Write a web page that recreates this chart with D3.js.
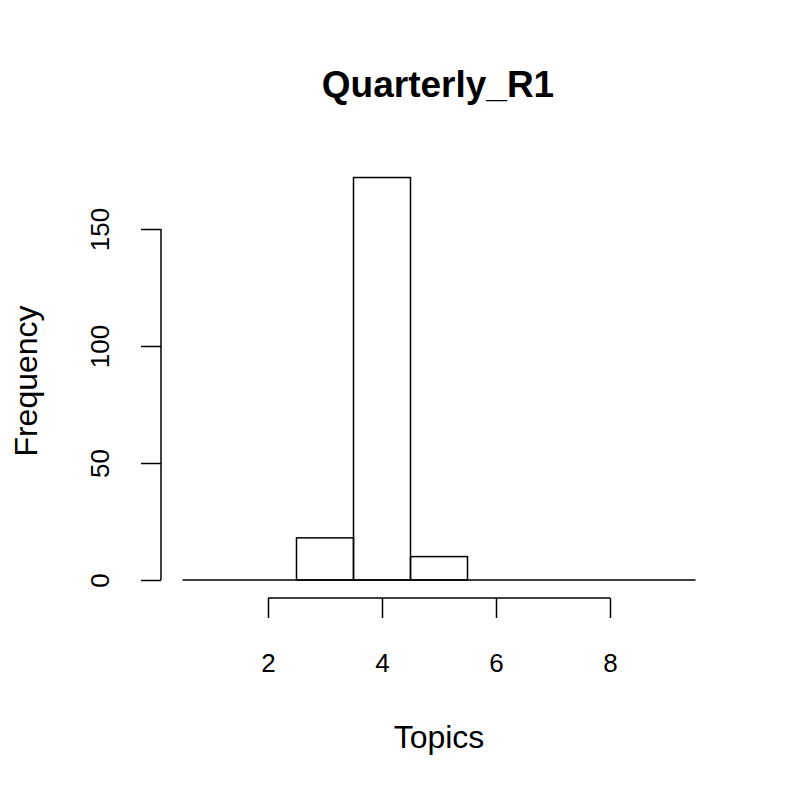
<!DOCTYPE html>
<html>
<head>
<meta charset="utf-8">
<script src="https://cdn.jsdelivr.net/npm/d3@7"></script>
<style>
  body { margin: 0; background: #fff; }
  text { font-family: "Liberation Sans", Arial, sans-serif; fill: #000; }
</style>
</head>
<body>
<svg id="chart" width="800" height="800"></svg>
<script>
// histogram bins (width 1) and counts
const binStarts = [0.5, 1.5, 2.5, 3.5, 4.5, 5.5, 6.5, 7.5, 8.5];
const counts = [0, 0, 18, 172, 10, 0, 0, 0, 0];
const xTicks = [2, 4, 6, 8];
const yTicks = [0, 50, 100, 150];

const svg = d3.select('#chart');
const font = '"Liberation Sans", Arial, sans-serif';

const x = d3.scaleLinear().domain([0.5, 9.5]).range([182.5, 695.5]);
const y = d3.scaleLinear().domain([0, 150]).range([580, 229]);

// baseline under the empty bins
svg.append('line')
    .attr('x1', x(0.5)).attr('x2', x(9.5))
    .attr('y1', y(0)).attr('y2', y(0))
    .attr('stroke', '#000').attr('stroke-width', 1.5);

// bars
svg.append('g')
    .selectAll('rect')
    .data(binStarts.filter((d, i) => counts[i] > 0))
    .enter().append('rect')
    .attr('x', d => x(d))
    .attr('width', d => x(d + 1) - x(d))
    .attr('y', d => y(counts[binStarts.indexOf(d)]))
    .attr('height', d => y(0) - y(counts[binStarts.indexOf(d)]))
    .attr('fill', 'none')
    .attr('stroke', '#000')
    .attr('stroke-width', 1.5);

// x axis
const xAxis = svg.append('g')
    .attr('transform', 'translate(0,598)')
    .call(d3.axisBottom(x).tickValues(xTicks).tickSize(20).tickSizeOuter(0));
xAxis.select('.domain').attr('d', `M${x(2)},0H${x(8)}`).attr('stroke-width', 1.5);
xAxis.selectAll('line').attr('stroke-width', 1.5);
xAxis.selectAll('text')
    .style('font-size', '26px').style('font-family', font)
    .attr('dy', null).attr('y', 74);

// y axis
const yAxis = svg.append('g')
    .attr('transform', 'translate(161,0)')
    .call(d3.axisLeft(y).tickValues(yTicks).tickSize(20).tickSizeOuter(0));
yAxis.select('.domain').attr('d', `M0,${y(0)}V${y(150)}`).attr('stroke-width', 1.5);
yAxis.selectAll('line').attr('stroke-width', 1.5);
yAxis.selectAll('text')
    .style('font-size', '26px').style('font-family', font)
    .attr('x', null).attr('dy', null).attr('y', 0)
    .attr('text-anchor', 'middle')
    .attr('transform', 'translate(-52,0) rotate(-90)');

// title and labels
svg.append('text')
    .attr('x', 438).attr('y', 97)
    .attr('text-anchor', 'middle')
    .style('font-size', '37px').style('font-weight', 'bold')
    .text('Quarterly_R1');

svg.append('text')
    .attr('x', 439).attr('y', 748)
    .attr('text-anchor', 'middle')
    .style('font-size', '32px')
    .text('Topics');

svg.append('text')
    .attr('transform', 'translate(37,381) rotate(-90)')
    .attr('text-anchor', 'middle')
    .style('font-size', '32px')
    .text('Frequency');
</script>
</body>
</html>
